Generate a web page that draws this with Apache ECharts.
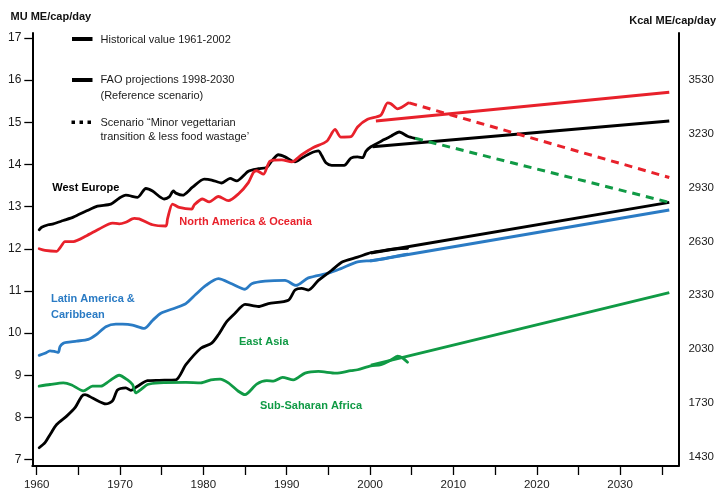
<!DOCTYPE html>
<html>
<head>
<meta charset="utf-8">
<script src="https://cdn.jsdelivr.net/npm/echarts@6/dist/echarts.min.js"></script>
<style>
  html, body { margin: 0; padding: 0; background: #fff; }
  #chart { width: 717px; height: 491px; }
</style>
</head>
<body>
<div id="chart"></div>
<script>
// Axis ticks
const yearTicks = [1960, 1965, 1970, 1975, 1980, 1985, 1990, 1995, 2000, 2005, 2010, 2015, 2020, 2025, 2030, 2035];
const yearLabels = [1960, 1970, 1980, 1990, 2000, 2010, 2020, 2030];
const muTicks = [7, 8, 9, 10, 11, 12, 13, 14, 15, 16, 17];
const kcalTicks = [1430, 1730, 2030, 2330, 2630, 2930, 3230, 3530];

// Historical series: [year, MU ME/cap/day]
const westEurope = [
  [1960.3, 12.45], [1960.6, 12.51], [1961.4, 12.57], [1962.0, 12.59], [1963.2, 12.67],
  [1964.4, 12.75], [1966.0, 12.90], [1967.3, 13.01], [1968.9, 13.06], [1969.9, 13.20],
  [1970.7, 13.27], [1972.1, 13.22], [1973.1, 13.43], [1973.9, 13.37], [1975.3, 13.18],
  [1975.9, 13.23], [1976.4, 13.37], [1976.7, 13.32], [1977.5, 13.27], [1978.7, 13.46],
  [1980.1, 13.65], [1981.0, 13.63], [1982.2, 13.56], [1983.2, 13.67], [1984.0, 13.61],
  [1985.4, 13.84], [1986.6, 13.90], [1987.6, 13.93], [1988.2, 14.08], [1989.0, 14.23],
  [1989.8, 14.18], [1991.0, 14.06], [1991.8, 14.15], [1992.8, 14.26], [1993.8, 14.32],
  [1994.2, 14.21], [1994.7, 14.04], [1995.4, 13.98], [1996.9, 13.98], [1997.7, 14.15],
  [1998.5, 14.18], [1999.1, 14.16], [1999.5, 14.31], [2000.1, 14.42], [2001.7, 14.59],
  [2002.5, 14.67], [2003.5, 14.77], [2004.5, 14.67], [2005.4, 14.62]
];
const northAmerica = [
  [1960.3, 12.00], [1961.0, 11.96], [1962.4, 11.94], [1962.8, 12.02], [1963.4, 12.17],
  [1964.4, 12.17], [1966.0, 12.31], [1967.5, 12.47], [1969.1, 12.61], [1969.9, 12.59],
  [1970.7, 12.63], [1971.7, 12.72], [1972.3, 12.71], [1973.9, 12.57], [1975.5, 12.54],
  [1975.7, 12.71], [1976.3, 13.06], [1977.1, 12.98], [1978.6, 12.94], [1978.9, 13.04],
  [1979.9, 13.18], [1980.7, 13.11], [1981.8, 13.24], [1983.0, 13.14], [1984.2, 13.30],
  [1985.4, 13.57], [1986.0, 13.81], [1986.4, 13.85], [1987.2, 13.77], [1988.0, 14.08],
  [1989.4, 14.11], [1990.6, 14.06], [1991.8, 14.23], [1993.2, 14.40], [1994.8, 14.55],
  [1995.8, 14.83], [1996.5, 14.65], [1997.7, 14.66], [1998.5, 14.89], [1999.7, 15.07],
  [2001.3, 15.17], [2002.1, 15.46], [2002.5, 15.44], [2003.3, 15.32], [2004.6, 15.46]
];
const latinAmerica = [
  [1960.3, 9.47], [1961.0, 9.52], [1961.6, 9.58], [1962.2, 9.56], [1962.6, 9.54],
  [1962.8, 9.68], [1963.2, 9.76], [1963.6, 9.78], [1964.8, 9.81], [1966.2, 9.85],
  [1967.2, 9.97], [1968.3, 10.15], [1969.5, 10.21], [1970.3, 10.21], [1971.5, 10.19],
  [1972.9, 10.11], [1973.9, 10.30], [1974.9, 10.47], [1976.7, 10.60], [1977.9, 10.70],
  [1979.1, 10.92], [1980.3, 11.13], [1981.8, 11.29], [1983.4, 11.17], [1985.0, 11.04],
  [1985.8, 11.17], [1987.4, 11.23], [1989.8, 11.25], [1991.1, 11.13], [1992.6, 11.31],
  [1995.0, 11.42], [1996.5, 11.53], [1998.5, 11.69], [2000.1, 11.72], [2001.7, 11.76],
  [2003.3, 11.83], [2004.5, 11.87]
];
const eastAsia = [
  [1960.3, 7.28], [1961.0, 7.40], [1961.6, 7.59], [1962.4, 7.83], [1963.6, 8.03],
  [1964.6, 8.23], [1965.4, 8.50], [1965.8, 8.54], [1966.7, 8.46], [1968.3, 8.32],
  [1969.1, 8.39], [1969.7, 8.65], [1970.7, 8.70], [1971.3, 8.64], [1972.1, 8.74],
  [1973.3, 8.87], [1974.7, 8.88], [1976.7, 8.89], [1977.9, 9.25], [1979.7, 9.64],
  [1981.0, 9.76], [1981.8, 9.96], [1982.8, 10.27], [1983.8, 10.47], [1985.0, 10.68],
  [1986.6, 10.63], [1987.8, 10.70], [1990.2, 10.78], [1991.0, 11.02], [1991.8, 11.06],
  [1992.6, 11.02], [1993.8, 11.25], [1995.4, 11.49], [1996.7, 11.69], [1998.5, 11.80],
  [2000.1, 11.91], [2001.7, 11.96], [2003.3, 12.00], [2004.5, 12.01]
];
const subSaharanAfrica = [
  [1960.3, 8.74], [1961.6, 8.78], [1963.2, 8.82], [1964.2, 8.77], [1965.6, 8.63],
  [1966.7, 8.74], [1967.7, 8.74], [1968.7, 8.86], [1969.9, 9.00], [1970.9, 8.89],
  [1971.5, 8.78], [1971.9, 8.58], [1972.5, 8.66], [1973.3, 8.78], [1974.7, 8.82],
  [1977.9, 8.83], [1979.7, 8.82], [1980.9, 8.89], [1982.0, 8.91], [1983.0, 8.82],
  [1984.2, 8.62], [1985.0, 8.54], [1986.4, 8.79], [1987.6, 8.87], [1988.4, 8.86],
  [1989.5, 8.95], [1990.8, 8.89], [1992.2, 9.05], [1993.8, 9.09], [1995.9, 9.05],
  [1997.7, 9.11], [1998.5, 9.13], [2000.1, 9.22], [2001.3, 9.25], [2002.5, 9.36],
  [2003.3, 9.45], [2003.9, 9.41], [2004.5, 9.31]
];

// FAO reference projections
const westEuropeProj = [[2000.3, 14.42], [2035.9, 15.03]];
const northAmericaProj = [[2000.7, 15.03], [2035.9, 15.71]];
const latinAmericaProj = [[2000.0, 11.71], [2035.9, 12.92]];
const eastAsiaProj = [[2000.1, 11.90], [2035.9, 13.10]];
const subSaharanAfricaProj = [[2000.1, 9.24], [2035.9, 10.96]];

// "Minor vegetarian transition" scenario
const westEuropeScen = [[2005.4, 14.62], [2035.9, 13.10]];
const northAmericaScen = [[2004.7, 15.46], [2035.9, 13.69]];

const RED = '#e8212b';
const BLUE = '#2a7bc4';
const GREEN = '#109a45';
const BLACK = '#000000';
const FONT = 'Liberation Sans, Arial, sans-serif';

function hist(name, data, color) {
  return {
    name, type: 'line', data, showSymbol: false, smooth: 0.25, silent: true,
    lineStyle: { color, width: 2.8, cap: 'round', join: 'round' }
  };
}
function proj(name, data, color) {
  return {
    name, type: 'line', data, showSymbol: false, silent: true,
    lineStyle: { color, width: 3 }
  };
}
function scen(name, data, color) {
  return {
    name, type: 'line', data, showSymbol: false, silent: true,
    lineStyle: { color, width: 3, type: [8, 6], cap: 'butt' }
  };
}

const chart = echarts.init(document.getElementById('chart'));

const txt = (x, y, text, opts) => Object.assign({
  type: 'text', x, y,
  style: Object.assign({ text, fontFamily: FONT, fontSize: 11, fill: '#1a1a1a', verticalAlign: 'middle' }, opts || {})
});
const boldTxt = (x, y, text, fill) => txt(x, y, text, { fontWeight: 'bold', fill, fontSize: 11 });
const plain = (v) => String(v);

chart.setOption({
  animation: false,
  backgroundColor: '#fff',
  grid: { left: 32.3, right: 34.3, top: 33, bottom: 22.5 },
  xAxis: {
    type: 'value', min: 1959.476, max: 2036.996,
    axisLine: { show: true, onZero: false, lineStyle: { color: '#000', width: 2 } },
    axisTick: { show: true, customValues: yearTicks, length: 9, lineStyle: { color: '#000', width: 1.3 } },
    axisLabel: { customValues: yearLabels, formatter: plain, margin: 13, fontSize: 11.5, fontFamily: FONT, color: '#1a1a1a' },
    splitLine: { show: false }
  },
  yAxis: [
    {
      type: 'value', min: 6.847, max: 17.118, position: 'left',
      axisLine: { show: true, onZero: false, lineStyle: { color: '#000', width: 2 } },
      axisTick: { show: true, customValues: muTicks, length: 8, lineStyle: { color: '#000', width: 1.3 } },
      axisLabel: { customValues: muTicks, formatter: plain, margin: 11, fontSize: 12, fontFamily: FONT, color: '#1a1a1a' },
      splitLine: { show: false }
    },
    {
      type: 'value', min: 1379.1, max: 3790.2, position: 'right',
      axisLine: { show: true, onZero: false, lineStyle: { color: '#000', width: 2 } },
      axisTick: { show: false },
      axisLabel: { customValues: kcalTicks, formatter: plain, margin: 10, fontSize: 11.5, fontFamily: FONT, color: '#1a1a1a' },
      splitLine: { show: false }
    }
  ],
  series: [
    hist('West Europe', westEurope, BLACK),
    hist('North America & Oceania', northAmerica, RED),
    hist('Latin America & Caribbean', latinAmerica, BLUE),
    hist('East Asia', eastAsia, BLACK),
    hist('Sub-Saharan Africa', subSaharanAfrica, GREEN),
    proj('West Europe projection', westEuropeProj, BLACK),
    proj('North America & Oceania projection', northAmericaProj, RED),
    proj('Latin America & Caribbean projection', latinAmericaProj, BLUE),
    proj('East Asia projection', eastAsiaProj, BLACK),
    proj('Sub-Saharan Africa projection', subSaharanAfricaProj, GREEN),
    scen('West Europe scenario', westEuropeScen, GREEN),
    scen('North America & Oceania scenario', northAmericaScen, RED)
  ],
  graphic: [
    txt(10.5, 16.5, 'MU ME/cap/day', { fontWeight: 'bold', fill: '#111' }),
    txt(716, 20.5, 'Kcal ME/cap/day', { fontWeight: 'bold', fill: '#111', align: 'right' }),
    // legend
    { type: 'line', shape: { x1: 72, y1: 39, x2: 92.5, y2: 39 }, style: { stroke: '#000', lineWidth: 4 } },
    txt(100.5, 39.5, 'Historical value 1961-2002'),
    { type: 'line', shape: { x1: 72, y1: 80, x2: 92.5, y2: 80 }, style: { stroke: '#000', lineWidth: 4 } },
    txt(100.5, 80, 'FAO projections 1998-2030'),
    txt(100.5, 96, '(Reference scenario)'),
    { type: 'rect', shape: { x: 71.5, y: 120.5, width: 3.5, height: 3.5 }, style: { fill: '#000' } },
    { type: 'rect', shape: { x: 79.5, y: 120.5, width: 3.5, height: 3.5 }, style: { fill: '#000' } },
    { type: 'rect', shape: { x: 87.5, y: 120.5, width: 3.5, height: 3.5 }, style: { fill: '#000' } },
    txt(100.5, 122.5, 'Scenario \u201cMinor vegettarian'),
    txt(100.5, 137, 'transition & less food wastage\u2019'),
    // region labels
    boldTxt(52.3, 188.3, 'West Europe', BLACK),
    boldTxt(179.3, 221.7, 'North America & Oceania', RED),
    boldTxt(51, 299, 'Latin America &', BLUE),
    boldTxt(51, 314.5, 'Caribbean', BLUE),
    boldTxt(239, 342.3, 'East Asia', GREEN),
    boldTxt(260, 406, 'Sub-Saharan Africa', GREEN)
  ]
});
</script>
</body>
</html>
